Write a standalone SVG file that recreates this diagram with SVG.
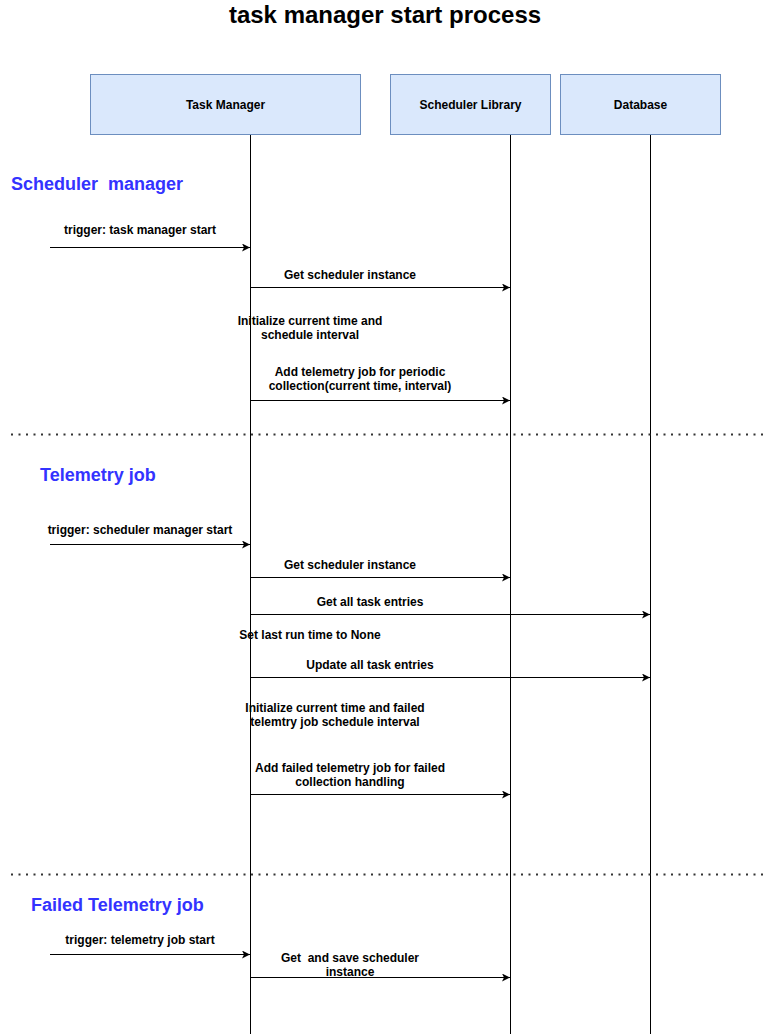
<svg xmlns="http://www.w3.org/2000/svg" width="773" height="1036" viewBox="0 0 773 1036">
<style>
.box{fill:#dae8fc;stroke:#6c8ebf;stroke-width:1}
.life{stroke:#000;stroke-width:1;fill:none}
.msg{stroke:#000;stroke-width:1;fill:none;marker-end:url(#arr)}
.dot{stroke:#333;stroke-width:2;stroke-dasharray:2 5.5;fill:none}
text{font-family:"Liberation Sans",Arial,sans-serif;font-weight:bold;fill:#000}
.lbl{font-size:12px;text-anchor:middle}
.sec{font-size:18px;fill:#3333ff}
.title{font-size:24px;text-anchor:middle}
</style>
<defs>
<marker id="arr" markerWidth="10" markerHeight="10" refX="8" refY="4" orient="auto" markerUnits="userSpaceOnUse">
<path d="M0,0 L8,4 L0,8 L2,4 Z" fill="#000"/>
</marker>
</defs>
<rect width="773" height="1036" fill="#fff"/>
<text class="title" x="385" y="23">task manager start process</text>
<g id="lifelines">
<line class="life" x1="250.5" y1="134.5" x2="250.5" y2="1034"/>
<line class="life" x1="510.5" y1="134.5" x2="510.5" y2="1034"/>
<line class="life" x1="650.5" y1="134.5" x2="650.5" y2="1034"/>
</g>
<g id="task-manager">
<rect class="box" x="90.5" y="74.5" width="270" height="60"/>
<text class="lbl" x="225.5" y="109">Task Manager</text>
</g>
<g id="scheduler-library">
<rect class="box" x="390.5" y="74.5" width="160" height="60"/>
<text class="lbl" x="470.5" y="109">Scheduler Library</text>
</g>
<g id="database">
<rect class="box" x="560.5" y="74.5" width="160" height="60"/>
<text class="lbl" x="640.5" y="109">Database</text>
</g>
<g id="separators">
<line class="dot" x1="11" y1="434.5" x2="766" y2="434.5"/>
<line class="dot" x1="11" y1="874.5" x2="766" y2="874.5"/>
</g>
<g id="sections">
<text class="sec" x="11" y="190" xml:space="preserve">Scheduler  manager</text>
<text class="sec" x="40" y="481">Telemetry job</text>
<text class="sec" x="31" y="911">Failed Telemetry job</text>
</g>
<g id="connectors">
<line class="msg" x1="50" y1="247.5" x2="250" y2="247.5"/>
<line class="msg" x1="250.5" y1="287.5" x2="510" y2="287.5"/>
<line class="msg" x1="250.5" y1="400.5" x2="510" y2="400.5"/>
<line class="msg" x1="50" y1="544.5" x2="250" y2="544.5"/>
<line class="msg" x1="250.5" y1="577.5" x2="510" y2="577.5"/>
<line class="msg" x1="250.5" y1="614.5" x2="650" y2="614.5"/>
<line class="msg" x1="250.5" y1="677.5" x2="650" y2="677.5"/>
<line class="msg" x1="250.5" y1="794.5" x2="510" y2="794.5"/>
<line class="msg" x1="50" y1="954.5" x2="250" y2="954.5"/>
<line class="msg" x1="250.5" y1="977.5" x2="510" y2="977.5"/>
</g>
<g id="labels">
<text class="lbl" x="140" y="234">trigger: task manager start</text>
<text class="lbl" x="350" y="279">Get scheduler instance</text>
<text class="lbl" x="310" y="325">Initialize current time and</text>
<text class="lbl" x="310" y="339">schedule interval</text>
<text class="lbl" x="360" y="376">Add telemetry job for periodic</text>
<text class="lbl" x="360" y="390">collection(current time, interval)</text>
<text class="lbl" x="140" y="534">trigger: scheduler manager start</text>
<text class="lbl" x="350" y="569">Get scheduler instance</text>
<text class="lbl" x="370" y="606">Get all task entries</text>
<text class="lbl" x="310" y="639">Set last run time to None</text>
<text class="lbl" x="370" y="669">Update all task entries</text>
<text class="lbl" x="335" y="712">Initialize current time and failed</text>
<text class="lbl" x="335" y="726">telemtry job schedule interval</text>
<text class="lbl" x="350" y="772">Add failed telemetry job for failed</text>
<text class="lbl" x="350" y="786">collection handling</text>
<text class="lbl" x="140" y="944">trigger: telemetry job start</text>
<text class="lbl" x="350" y="962" xml:space="preserve">Get  and save scheduler</text>
<text class="lbl" x="350" y="976">instance</text>
</g>
</svg>
